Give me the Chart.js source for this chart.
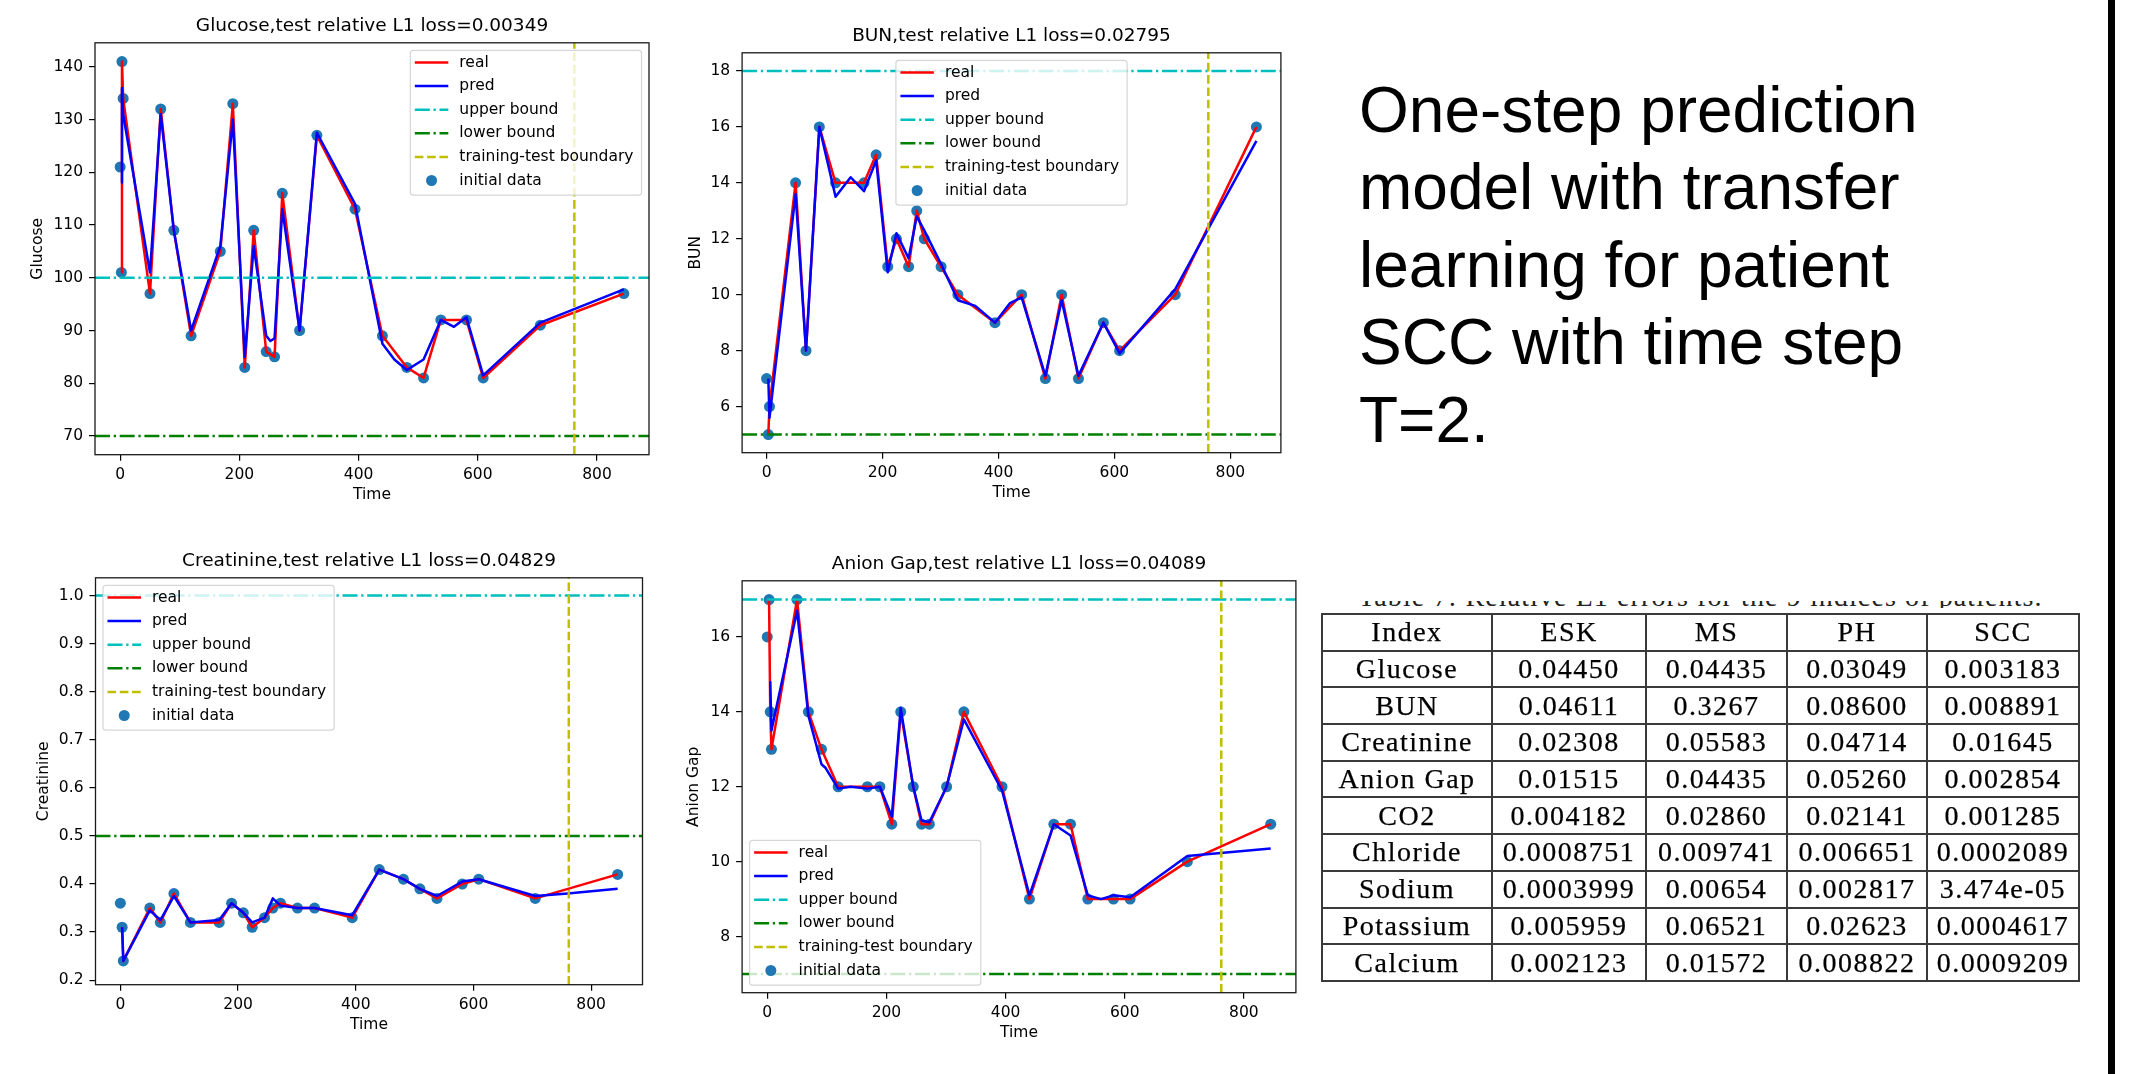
<!DOCTYPE html>
<html>
<head>
<meta charset="utf-8">
<script src="https://cdn.jsdelivr.net/npm/chart.js@4.4.1/dist/chart.umd.min.js"></script>
<style>
  body { margin: 0; background: #fff; width: 2132px; height: 1074px; overflow: hidden; position: relative; }
  canvas { position: absolute; }
  #note { position: absolute; left: 1359px; top: 72px; margin: 0; color: #000;
          font: 64px/77.4px "Liberation Sans", Arial, sans-serif; white-space: nowrap; }
  #cap { position: absolute; left: 1358px; top: 601px; width: 720px; height: 7px; overflow: hidden; }
  #cap span { display: block; margin-top: -18.5px; font: 28px/28px "Liberation Serif", serif; letter-spacing: 1.1px;
              color: #222; white-space: nowrap; }
  #tbl { position: absolute; left: 1321px; top: 613px; width: 759px; border-collapse: collapse; table-layout: fixed;
         font: 28px "Liberation Serif", serif; letter-spacing: 1.5px; color: #000; -webkit-text-stroke: 0.25px #000; }
  #tbl td { border: 2px solid #3a3a3a; text-align: center; padding: 0; height: 34.7px; line-height: 1; white-space: nowrap; }
  #bar { position: absolute; left: 2108px; top: 0; width: 7px; height: 1074px; background: #000; }
</style>
</head>
<body>
<canvas id="glucose"></canvas>
<canvas id="bun"></canvas>
<canvas id="creatinine"></canvas>
<canvas id="anion"></canvas>
<div id="note">One-step prediction<br>model with transfer<br>learning for patient<br>SCC with time step<br>T=2.</div>
<div id="cap"><span>Table 7: Relative L1 errors for the 9 indices of patients.</span></div>
<table id="tbl"></table>
<div id="bar"></div>
<script>
// shared axis settings
const timeTicks = [0, 200, 400, 600, 800];
const boundaryT = 762;
const xMin = -42.25, xMax = 887.25;

// Glucose
const glucoseT = [0, 2, 3, 5, 50, 68, 90, 119, 168, 189, 209, 224, 245, 259, 272, 301, 330, 394, 440, 481, 509, 538, 581, 609, 705, 845];
const glucoseReal = [121, 101, 141, 134, 97, 132, 109, 89, 105, 133, 83, 109, 86, 85, 116, 90, 127, 113, 89, 83, 81, 92, 92, 81, 91, 97];
const glucosePredT = [2, 3, 5, 50, 68, 90, 119, 168, 189, 209, 224, 245, 252, 259, 272, 301, 330, 394, 440, 460, 481, 509, 538, 560, 581, 609, 705, 845];
const glucosePred = [118, 136, 131, 101, 131, 109, 90, 106, 130, 85, 106, 89, 88, 88.5, 113, 90, 127.5, 114, 87.5, 84.5, 82.5, 84.5, 92, 90.7, 92.5, 81.5, 91.5, 97.8];
const glucoseBounds = [70, 100];
const glucoseTicks = [70, 80, 90, 100, 110, 120, 130, 140];

// BUN
const bunT = [0, 3, 5, 50, 68, 91, 119, 168, 189, 209, 224, 245, 259, 272, 301, 330, 394, 440, 481, 509, 538, 581, 609, 705, 845];
const bunReal = [7, 5, 6, 14, 8, 16, 14, 14, 15, 11, 12, 11, 13, 12, 11, 10, 9, 10, 7, 10, 7, 9, 8, 10, 16];
const bunPredT = [3, 5, 50, 68, 91, 119, 145, 168, 189, 209, 224, 245, 259, 272, 301, 330, 360, 394, 420, 440, 481, 509, 538, 581, 609, 705, 845];
const bunPred = [7, 5.6, 13.6, 8, 16, 13.5, 14.2, 13.7, 14.8, 10.8, 12.2, 11.3, 12.8, 12.3, 11.1, 9.8, 9.6, 9, 9.7, 9.9, 7.1, 9.8, 7.1, 9, 7.9, 10.2, 15.5];
const bunBounds = [5, 18];
const bunTicks = [6, 8, 10, 12, 14, 16, 18];

// Creatinine
const creT = [0, 3, 5, 50, 68, 91, 119, 168, 189, 209, 224, 245, 259, 272, 301, 330, 394, 440, 481, 509, 538, 581, 609, 705, 845];
const creReal = [0.36, 0.31, 0.24, 0.35, 0.32, 0.38, 0.32, 0.32, 0.36, 0.34, 0.31, 0.33, 0.35, 0.36, 0.35, 0.35, 0.33, 0.43, 0.41, 0.39, 0.37, 0.40, 0.41, 0.37, 0.42];
const crePredT = [3, 5, 50, 68, 91, 119, 168, 189, 209, 224, 245, 259, 272, 301, 330, 394, 440, 481, 509, 538, 581, 609, 705, 760, 845];
const crePred = [0.31, 0.24, 0.345, 0.325, 0.375, 0.32, 0.325, 0.36, 0.34, 0.32, 0.33, 0.37, 0.355, 0.35, 0.35, 0.335, 0.43, 0.41, 0.39, 0.375, 0.405, 0.41, 0.375, 0.38, 0.39];
const creBounds = [0.5, 1.0];
const creTicks = [0.2, 0.3, 0.4, 0.5, 0.6, 0.7, 0.8, 0.9, 1.0];

// Anion Gap
const agT = [0, 3, 5, 7, 50, 69, 91, 119, 168, 189, 209, 224, 245, 259, 272, 301, 330, 394, 440, 481, 509, 538, 581, 609, 705, 845];
const agReal = [16, 17, 14, 13, 17, 14, 13, 12, 12, 12, 11, 14, 12, 11, 11, 12, 14, 12, 9, 11, 11, 9, 9, 9, 10, 11];
const agPredT = [4, 5, 7, 50, 69, 91, 98, 119, 140, 168, 189, 209, 224, 245, 259, 272, 301, 330, 394, 440, 481, 509, 538, 560, 581, 609, 705, 845];
const agPred = [14.8, 14.8, 13.5, 16.7, 13.9, 12.6, 12.5, 11.95, 12, 11.95, 12, 11.2, 14.1, 12, 11.1, 11.05, 12, 13.8, 11.9, 9.1, 11, 10.7, 9.1, 9, 9.1, 9.05, 10.15, 10.35];
const agBounds = [7, 17];
const agTicks = [8, 10, 12, 14, 16];

// table
const tableCols = ['Index', 'ESK', 'MS', 'PH', 'SCC'];
const tableIdx = ['Glucose', 'BUN', 'Creatinine', 'Anion Gap', 'CO2', 'Chloride', 'Sodium', 'Potassium', 'Calcium'];
const eskErr = ['0.04450', '0.04611', '0.02308', '0.01515', '0.004182', '0.0008751', '0.0003999', '0.005959', '0.002123'];
const msErr = ['0.04435', '0.3267', '0.05583', '0.04435', '0.02860', '0.009741', '0.00654', '0.06521', '0.01572'];
const phErr = ['0.03049', '0.08600', '0.04714', '0.05260', '0.02141', '0.006651', '0.002817', '0.02623', '0.008822'];
const sccErr = ['0.003183', '0.008891', '0.01645', '0.002854', '0.001285', '0.0002089', '3.474e-05', '0.0004617', '0.0009209'];
const colW = [170, 154, 141, 140, 152];

Chart.defaults.font.family = '"DejaVu Sans"';
Chart.defaults.color = '#000';
Chart.defaults.animation = false;

const pts = (xs, ys) => xs.map((x, i) => ({x: x, y: ys[i]}));

// plot frame, like matplotlib spines
const framePlugin = {
  id: 'frame',
  afterDatasetsDraw(chart) {
    const ctx = chart.ctx, a = chart.chartArea;
    ctx.save();
    ctx.strokeStyle = '#1a1a1a';
    ctx.lineWidth = 1.3;
    ctx.strokeRect(a.left, a.top, a.right - a.left, a.bottom - a.top);
    ctx.restore();
  }
};

// legend box drawn inside the axes
const mplLegend = {
  id: 'mplLegend',
  afterDraw(chart, args, opts) {
    const ctx = chart.ctx, a = chart.chartArea;
    const ds = chart.data.datasets;
    const rowH = 23.6, padTop = 12.2, padBot = 14.7, padL = 4.5, hLen = 33.5, gap = 11, padR = 8, off = 7.5;
    ctx.save();
    ctx.font = '15.5px "DejaVu Sans"';
    const tw = Math.max(...ds.map(d => ctx.measureText(d.label).width));
    const w = padL + hLen + gap + tw + padR;
    const h = padTop + rowH * (ds.length - 1) + padBot;
    let x = a.left + off, y = a.top + off;
    if (opts.loc === 'upper right') x = a.right - off - w;
    if (opts.loc === 'upper center') x = (a.left + a.right - w) / 2;
    if (opts.loc === 'lower left') y = a.bottom - off - h;
    ctx.beginPath();
    ctx.roundRect(x, y, w, h, 3);
    ctx.fillStyle = 'rgba(255,255,255,0.8)';
    ctx.fill();
    ctx.strokeStyle = 'rgba(204,204,204,0.8)';
    ctx.lineWidth = 1.2;
    ctx.stroke();
    ds.forEach((d, i) => {
      const cy = y + padTop + i * rowH, hx = x + padL;
      if (d.showLine) {
        ctx.beginPath();
        ctx.setLineDash(d.borderDash || []);
        ctx.strokeStyle = d.borderColor;
        ctx.lineWidth = d.borderWidth;
        ctx.moveTo(hx, cy);
        ctx.lineTo(hx + hLen, cy);
        ctx.stroke();
      } else {
        ctx.setLineDash([]);
        ctx.beginPath();
        ctx.arc(hx + hLen / 2, cy, d.pointRadius, 0, Math.PI * 2);
        ctx.fillStyle = d.pointBackgroundColor;
        ctx.fill();
      }
      ctx.fillStyle = '#000';
      ctx.textAlign = 'left';
      ctx.textBaseline = 'middle';
      ctx.fillText(d.label, hx + hLen + gap, cy);
    });
    ctx.restore();
  }
};

function drawPanel(id, g, s) {
  const titleH = 27.8, xH = 49.3;
  const cv = document.getElementById(id);
  const left = Math.round(g.L - g.yW), top = Math.round(g.T - titleH);
  cv.width = Math.round(g.R + g.yW) - left;
  cv.height = Math.round(g.B + xH) - top;
  cv.style.left = left + 'px';
  cv.style.top = top + 'px';
  const tickFont = {family: '"DejaVu Sans"', size: 15.5};
  const fmt = s.fmt || (v => String(v));
  const tickGrid = {drawOnChartArea: false, drawTicks: true, tickLength: 6, color: '#000', lineWidth: 1.2};
  const lw = 2.5;
  new Chart(cv, {
    type: 'scatter',
    data: {
      datasets: [
        {label: 'real', data: pts(s.t.slice(1), s.real.slice(1)), showLine: true, borderColor: '#ff0000',
         borderWidth: lw, borderJoinStyle: 'round', pointRadius: 0, order: 5},
        {label: 'pred', data: pts(s.predT, s.pred), showLine: true, borderColor: '#0000ff',
         borderWidth: lw, borderJoinStyle: 'round', pointRadius: 0, order: 4},
        {label: 'upper bound', data: [{x: xMin, y: s.bounds[1]}, {x: xMax, y: s.bounds[1]}], showLine: true,
         borderColor: '#00bfbf', borderWidth: lw, borderDash: [15, 3.7, 2.3, 3.7], pointRadius: 0, order: 3},
        {label: 'lower bound', data: [{x: xMin, y: s.bounds[0]}, {x: xMax, y: s.bounds[0]}], showLine: true,
         borderColor: '#008000', borderWidth: lw, borderDash: [15, 3.7, 2.3, 3.7], pointRadius: 0, order: 2},
        {label: 'training-test boundary', data: [{x: boundaryT, y: s.yMin}, {x: boundaryT, y: s.yMax}], showLine: true,
         borderColor: '#bfbf00', borderWidth: lw, borderDash: [8.6, 3.7], pointRadius: 0, order: 1},
        {label: 'initial data', data: pts(s.t, s.real), showLine: false, pointRadius: 5.5,
         pointBackgroundColor: '#1f77b4', pointBorderWidth: 0, order: 10}
      ]
    },
    options: {
      responsive: false,
      events: [],
      layout: {padding: 0},
      plugins: {
        legend: {display: false},
        tooltip: {enabled: false},
        title: {display: true, text: s.title, color: '#000', padding: {top: 0, bottom: 5.6},
                font: {family: '"DejaVu Sans"', size: 18.5, weight: 'normal', lineHeight: 1.2}},
        mplLegend: {loc: s.loc}
      },
      scales: {
        x: {
          type: 'linear', min: xMin, max: xMax,
          afterBuildTicks: sc => { sc.ticks = timeTicks.map(v => ({value: v})); },
          afterFit: sc => { sc.height = xH; },
          ticks: {font: tickFont, color: '#000', padding: 5, maxRotation: 0, autoSkip: false},
          grid: tickGrid,
          border: {display: false},
          title: {display: true, text: 'Time', color: '#000', padding: 0, font: {size: 15.5, lineHeight: 1.2}}
        },
        y: {
          type: 'linear', position: 'left', min: s.yMin, max: s.yMax,
          afterBuildTicks: sc => { sc.ticks = s.ticks.map(v => ({value: v})); },
          afterFit: sc => { sc.width = g.yW; },
          ticks: {font: tickFont, color: '#000', padding: 6, autoSkip: false, callback: v => fmt(v)},
          grid: tickGrid,
          border: {display: false},
          title: {display: true, text: s.ylabel, color: '#000', padding: 0, font: {size: 15.5, lineHeight: 1.2}}
        },
        y2: {
          type: 'linear', position: 'right', display: true,
          afterFit: sc => { sc.width = g.yW; },
          ticks: {display: false},
          grid: {display: false},
          border: {display: false}
        }
      }
    },
    plugins: [framePlugin, mplLegend]
  });
}

drawPanel('glucose', {L: 95, T: 43.3, R: 649, B: 455, yW: 66}, {
  title: 'Glucose,test relative L1 loss=0.00349', ylabel: 'Glucose', loc: 'upper right',
  t: glucoseT, real: glucoseReal, predT: glucosePredT, pred: glucosePred, bounds: glucoseBounds,
  ticks: glucoseTicks, yMin: 66.45, yMax: 144.55
});
drawPanel('bun', {L: 742, T: 52.7, R: 1281, B: 452.3, yW: 55.1}, {
  title: 'BUN,test relative L1 loss=0.02795', ylabel: 'BUN', loc: 'upper center',
  t: bunT, real: bunReal, predT: bunPredT, pred: bunPred, bounds: bunBounds,
  ticks: bunTicks, yMin: 4.35, yMax: 18.65
});
drawPanel('creatinine', {L: 95, T: 577.3, R: 642, B: 985, yW: 60.5}, {
  title: 'Creatinine,test relative L1 loss=0.04829', ylabel: 'Creatinine', loc: 'upper left',
  t: creT, real: creReal, predT: crePredT, pred: crePred, bounds: creBounds,
  ticks: creTicks, yMin: 0.1905, yMax: 1.037, fmt: v => v.toFixed(1)
});
drawPanel('anion', {L: 742, T: 580.7, R: 1296, B: 992.7, yW: 57.1}, {
  title: 'Anion Gap,test relative L1 loss=0.04089', ylabel: 'Anion Gap', loc: 'lower left',
  t: agT, real: agReal, predT: agPredT, pred: agPred, bounds: agBounds,
  ticks: agTicks, yMin: 6.5, yMax: 17.5
});

// error table
const tbl = document.getElementById('tbl');
let html = '<colgroup>' + colW.map(w => '<col style="width:' + w + 'px">').join('') + '</colgroup>';
html += '<tr>' + tableCols.map(c => '<td>' + c + '</td>').join('') + '</tr>';
tableIdx.forEach((name, i) => {
  html += '<tr><td>' + [name, eskErr[i], msErr[i], phErr[i], sccErr[i]].join('</td><td>') + '</td></tr>';
});
tbl.innerHTML = html;
</script>
</body>
</html>
